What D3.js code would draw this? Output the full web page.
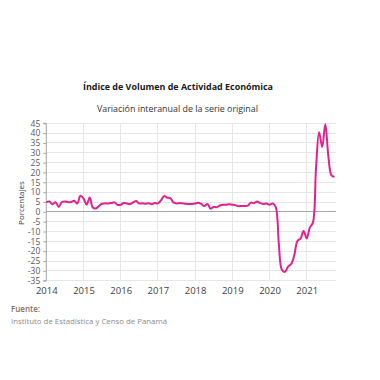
<!DOCTYPE html>
<html>
<head>
<meta charset="utf-8">
<script src="https://cdn.jsdelivr.net/npm/d3@7"></script>
<style>
  html, body { margin: 0; padding: 0; background: #ffffff; }
  svg { display: block; }
  text { font-family: "Open Sans", "DejaVu Sans", sans-serif; }
</style>
</head>
<body>
<script>
// ---- Data (monthly, Jan 2014 - Oct 2021) ----
const startYear = 2014;
const yearLabels = ["2014", "2015", "2016", "2017", "2018", "2019", "2020", "2021"];
const yTicks = [45, 40, 35, 30, 25, 20, 15, 10, 5, 0, -5, -10, -15, -20, -25, -30, -35];
const values = [
  // 2014
  4.8, 5.3, 3.9, 4.9, 2.5, 5.0, 5.3, 4.9, 5.0, 5.6, 4.2, 8.2,
  // 2015
  6.8, 3.6, 7.3, 2.2, 1.7, 3.0, 4.1, 4.3, 4.3, 4.5, 4.8, 3.5,
  // 2016
  3.6, 4.5, 4.2, 4.0, 4.8, 5.5, 4.2, 4.4, 4.1, 4.4, 3.9, 4.5,
  // 2017
  4.3, 5.8, 8.0, 7.2, 7.0, 4.8, 4.3, 4.5, 4.3, 4.1, 4.0, 4.0,
  // 2018
  4.2, 4.6, 4.0, 2.9, 4.0, 1.6, 2.5, 2.4, 3.2, 3.6, 3.6, 3.8,
  // 2019
  3.6, 3.4, 2.9, 3.0, 3.0, 3.2, 4.7, 4.4, 5.3, 4.4, 4.0, 4.2,
  // 2020
  3.6, 4.2, 2.5, -16.0, -29.5, -30.5, -27.8, -26.5, -22.0, -14.8, -13.6, -9.7,
  // 2021
  -13.5, -8.0, -5.5, 22.0, 40.5, 33.0, 44.5, 28.0, 18.5, 17.8
];
const titleText = "Índice de Volumen de  Actividad Económica";
const subtitleText = "Variación interanual de la serie original";
const yAxisLabel = "Porcentajes";
const sourceLabel = "Fuente:";
const sourceText = "Instituto de Estadística y Censo de Panamá";

// ---- Layout ----
const W = 380, H = 380;
const plot = { left: 46.3, right: 336, top: 123.3, bottom: 280.7 };

const svg = d3.select("body").append("svg")
  .attr("width", W).attr("height", H);

const x = d3.scaleLinear()
  .domain([0, values.length - 1])
  .range([plot.left, plot.left + (values.length - 1) * (37.2 / 12)]);
const y = d3.scaleLinear()
  .domain([-35, 45])
  .range([plot.bottom, plot.top]);

const gridRight = plot.right;

// horizontal gridlines
svg.append("g").selectAll("line")
  .data(yTicks.filter(d => d !== 0))
  .join("line")
  .attr("x1", plot.left).attr("x2", gridRight)
  .attr("y1", d => y(d)).attr("y2", d => y(d))
  .attr("stroke", "#e6e6e6").attr("stroke-width", 1)
  .attr("shape-rendering", "crispEdges");

// vertical gridlines at years
const yearIdx = yearLabels.map((d, i) => i * 12);
svg.append("g").selectAll("line")
  .data(yearIdx.slice(1))
  .join("line")
  .attr("x1", d => x(d)).attr("x2", d => x(d))
  .attr("y1", plot.top).attr("y2", plot.bottom)
  .attr("stroke", "#e6e6e6").attr("stroke-width", 1)
  .attr("shape-rendering", "crispEdges");

// zero line
svg.append("line")
  .attr("x1", plot.left).attr("x2", gridRight)
  .attr("y1", y(0)).attr("y2", y(0))
  .attr("stroke", "#a6a6a6").attr("stroke-width", 1)
  .attr("shape-rendering", "crispEdges");

// y axis
const yAxis = d3.axisLeft(y).tickValues(yTicks).tickSize(3).tickPadding(3)
  .tickFormat(d => d);
const gy = svg.append("g")
  .attr("transform", `translate(${plot.left},0)`)
  .call(yAxis);
gy.select(".domain").attr("stroke", "#a6a6a6").attr("d", `M-3,${plot.top}H0V${plot.bottom}H-3`);
gy.selectAll(".tick line").attr("stroke", "#a6a6a6");
gy.selectAll("text").attr("fill", "#595959").style("font-size", "8.5px")
  .style("font-family", "'Open Sans', sans-serif");

// x axis labels
const xAxis = d3.axisBottom(x).tickValues(yearIdx).tickSize(0).tickPadding(7)
  .tickFormat((d, i) => yearLabels[i]);
const gx = svg.append("g")
  .attr("transform", `translate(0,${plot.bottom})`)
  .call(xAxis);
gx.select(".domain").remove();
gx.selectAll("text").attr("fill", "#404040").style("font-size", "9.5px")
  .style("font-family", "'Open Sans', sans-serif");

// line
const line = d3.line()
  .x((d, i) => x(i))
  .y(d => y(d))
  .curve(d3.curveCatmullRom.alpha(0.5));
svg.append("path")
  .datum(values)
  .attr("d", line)
  .attr("fill", "none")
  .attr("stroke", "#e3218c")
  .attr("stroke-width", 2)
  .attr("stroke-linejoin", "round");

// titles
svg.append("text")
  .attr("x", 83).attr("y", 90)
  .attr("textLength", 190).attr("lengthAdjust", "spacingAndGlyphs")
  .attr("fill", "#1a1a1a")
  .style("font-size", "8.5px").style("font-weight", "bold")
  .text(titleText);
svg.append("text")
  .attr("x", 97).attr("y", 112)
  .attr("textLength", 161).attr("lengthAdjust", "spacingAndGlyphs")
  .attr("fill", "#333333")
  .style("font-size", "8.5px")
  .text(subtitleText);

// y axis title
svg.append("text")
  .attr("transform", `translate(23.5,203) rotate(-90)`)
  .attr("text-anchor", "middle")
  .attr("fill", "#404040")
  .style("font-size", "8px")
  .text(yAxisLabel);

// source
svg.append("text")
  .attr("x", 11).attr("y", 312)
  .attr("fill", "#7f6f60")
  .style("font-size", "8px").style("font-weight", "600")
  .text(sourceLabel);
svg.append("text")
  .attr("x", 11).attr("y", 324)
  .attr("textLength", 156).attr("lengthAdjust", "spacingAndGlyphs")
  .attr("fill", "#8c8c8c")
  .style("font-size", "7.5px")
  .text(sourceText);
</script>
</body>
</html>
